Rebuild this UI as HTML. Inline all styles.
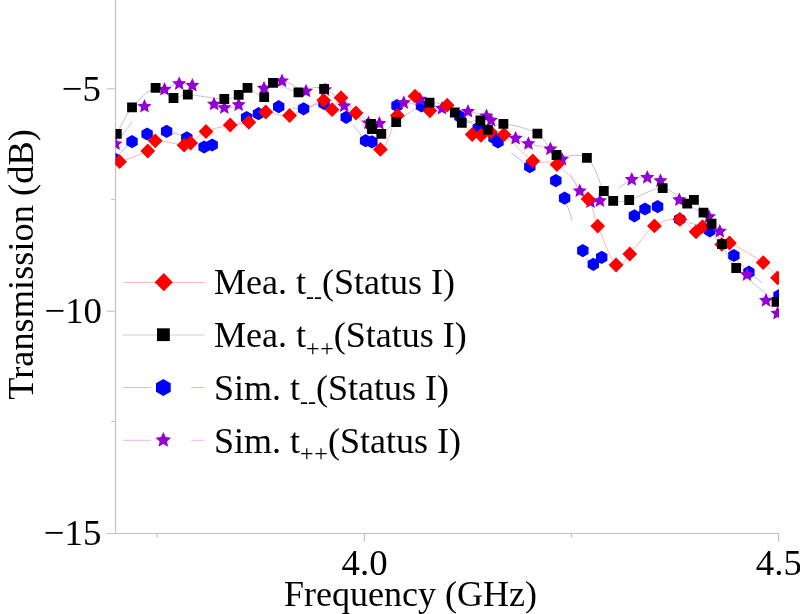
<!DOCTYPE html>
<html><head><meta charset="utf-8"><style>
html,body{margin:0;padding:0;background:#fff;width:800px;height:614px;overflow:hidden}
svg{display:block;will-change:transform;font-family:"Liberation Serif",serif}
</style></head><body>
<svg width="800" height="614" viewBox="0 0 800 614">
<defs><clipPath id="pc"><rect x="115.5" y="0" width="663.5" height="533.5"/></clipPath></defs>
<g stroke="#c4c4c4" stroke-width="1.2" fill="none">
<path d="M115.5 0V533.5H778.6V541.5"/>
<path d="M106.5 88.75H115.5M106.5 311.25H115.5M106.5 533.5H115.5M111 199.5H115.5M111 421.5H115.5"/>
<path d="M364.4 533.5V541.5M157 533.5V537.5M571.5 533.5V537.5"/>
</g>
<g clip-path="url(#pc)">
<path d="M115 159C117.8 156.1 126.7 145.8 132 141.6C137.3 137.4 141.3 135.7 147.1 134C152.9 132.3 160 130.8 166.6 131.4C173.2 132 180.6 135.2 186.8 137.8C193.1 140.4 199.9 145.8 204.1 147C208.3 148.2 205.1 149.9 212.2 145C219.3 140.1 238.9 122.8 246.6 117.6C254.3 112.4 253.2 115.5 258.5 113.7C263.9 111.9 271.2 107.5 278.7 106.7C286.2 105.9 296.1 109.3 303.6 108.8C311.2 108.3 316.9 102.1 324 103.5C331.1 104.9 339.3 111.1 346.2 117.3C353.1 123.5 361.3 136.6 365.6 140.7C369.9 144.8 366.7 147.8 371.9 141.9C377.1 136.1 388.7 111.6 397 105.6C405.3 99.6 411 104.1 421.5 105.9C432 107.8 450.5 113 460 116.7C469.5 120.4 472.6 124.5 478.3 128C484 131.6 490.7 135.7 494 138C497.3 140.3 492 137.2 498 142C504 146.8 520.2 160.3 529.8 166.7C539.4 173.1 550 175.4 555.8 180.6C561.6 185.8 560.1 186.4 564.6 198.1C569.1 209.8 578 239.6 582.8 250.6C587.6 261.6 590.1 263.2 593.3 264.3C596.4 265.4 594.9 265.5 601.7 257.4C608.6 249.3 627.2 223.9 634.4 215.8C641.6 207.7 641.1 210.5 645 209C648.9 207.5 651.8 204.9 657.6 206.6C663.4 208.3 670.9 215.3 679.6 219.3C688.3 223.3 700.8 224.8 709.8 230.8C718.8 236.8 727.4 248.6 733.9 255.5C740.4 262.4 741.4 265.5 748.9 272.2C756.4 278.9 774 291.6 779 295.5" stroke="#b4b8ff" stroke-width="1" fill="none" stroke-dasharray="28 40"/>
<path d="M115.5 144C120.3 137.8 136.3 115.6 144.5 106.5C152.7 97.4 158.7 93.3 164.5 89.5C170.3 85.7 174.6 84.5 179.2 83.8C183.8 83.1 186.5 82.1 192.3 85.5C198.1 88.9 208.7 100.5 214 104.2C219.3 107.9 220.2 107.7 224.3 107.8C228.4 107.9 232.1 108.2 238.7 104.9C245.3 101.7 256.8 92.3 264 88.3C271.2 84.3 275 80.5 282 81C289 81.5 298.8 89.7 306 91.2C313.2 92.7 318.6 87.3 325 89.8C331.4 92.3 336.9 100.5 344.2 106C351.4 111.5 362.6 120.1 368.5 123C374.4 125.9 373.5 127 379.4 123.6C385.3 120.2 397 106.8 403.8 102.8C410.6 98.8 413.6 98.4 420 99.3C426.4 100.2 434 106.4 442 108.4C450 110.4 460.6 110.2 468 111.5C475.4 112.8 482.7 114.5 486.5 116C490.3 117.5 486.1 116.6 491 120.3C495.9 124 509.4 134.5 515.6 138.4C521.8 142.3 522.6 141.9 528.4 143.7C534.2 145.5 544.8 146.5 550.4 149.1C556 151.7 557.1 152.4 562 159.4C566.9 166.4 575 183.9 579.8 191C584.5 198.1 587.1 200.4 590.5 202C593.9 203.6 593.1 204.5 600 200.8C606.9 197.1 623.9 183.5 631.8 179.6C639.7 175.7 642.5 177.4 647.3 177.6C652.1 177.8 655.2 177.1 660.5 180.8C665.8 184.5 671.2 193.9 679.3 199.9C687.4 205.9 702.2 211.6 709 216.8C715.8 222.1 713.5 221.7 719.8 231.4C726.1 241.1 739.3 263.3 747 274.8C754.7 286.3 760.9 294.2 766 300.6C771.1 307.1 775.6 311.4 777.5 313.5" stroke="#e0b0f0" stroke-width="1" fill="none" stroke-dasharray="28 40"/>
<path d="M119.6 161.7C124.3 159.9 141.9 154.5 147.8 151C153.7 147.5 149.1 141.8 155.2 140.8C161.2 139.8 178.2 144.8 184.1 145.2C190 145.6 186.9 145.3 190.6 143C194.2 140.7 199.4 134.5 206 131.5C212.6 128.5 223 126.5 230.2 125C237.3 123.5 243 124.5 248.9 122.3C254.8 120.1 259 113.1 265.8 112C272.6 110.9 280 117.5 289.6 115.5C299.2 113.5 316.6 101.3 323.7 100.3C330.8 99.3 329.2 110.1 332.1 109.7C335 109.3 337 97.2 341 97.7C345 98.2 349.4 104.4 356 113C362.6 121.6 373.5 149 380.4 149.4C387.3 149.8 391.6 124.4 397.4 115.5C403.2 106.6 409.6 97 415 96.2C420.4 95.4 424.5 109.3 429.9 110.8C435.3 112.3 440.1 101.2 447.2 105.2C454.2 109.2 466.6 129.5 472.2 134.5C477.8 139.5 477.9 135.7 481 135.3C484.1 134.9 486.7 132.1 490.5 132C494.3 131.9 496.9 129.7 504 134.5C511.1 139.3 524 155.9 532.8 160.9C541.6 165.9 547.8 158.2 557 164.6C566.2 170.9 581.2 188.8 588 199C594.8 209.2 593 215.1 597.7 226.1C602.4 237.1 610.8 260.4 616.1 265C621.5 269.6 623.4 260.5 629.8 254C636.2 247.5 646 231.7 654.4 225.9C662.8 220.1 673 218.3 679.9 219.3C686.8 220.3 692.2 230.6 696 231.8C699.8 233 698.2 224.6 702.5 226.7C706.8 228.8 717.3 241.7 721.8 244.4C726.3 247.1 722.6 240 729.5 243C736.4 246 755.2 256.8 763.2 262.6C771.2 268.4 775.1 275.3 777.5 277.8" stroke="#ffb4b4" stroke-width="1" fill="none"/>
<path d="M116.8 133.8C119.3 129.4 125.5 115.1 132 107.4C138.5 99.8 148.7 89.5 155.6 87.9C162.5 86.3 168.1 96.9 173.5 98C178.9 99.1 179.3 94.5 187.8 94.7C196.3 94.9 215.8 99 224.3 99C232.8 99 234.8 96.8 238.7 94.9C242.6 93.1 243.2 87.5 247.5 87.9C251.8 88.3 259.9 97.9 264.2 97.1C268.4 96.3 267.3 83.7 273 82.9C278.7 82.1 290 91.3 298.5 92.3C307 93.3 312 83.5 324.1 88.8C336.2 94.1 363 117.3 371 124C379 130.7 370.3 127.3 372 129C373.7 130.7 377.3 135.1 381.3 133.9C385.3 132.7 388.1 127.2 396.2 122C404.2 116.8 419.8 104.2 429.6 102.6C439.4 101 449.4 109.1 454.8 112.5C460.2 115.9 457.5 121.5 461.8 122.8C466.1 124.1 476 119.4 480.4 120.5C484.8 121.6 484.1 129 487.9 129.6C491.7 130.2 495.1 123.1 503.4 123.8C511.6 124.5 528.5 128.5 537.4 133.7C546.2 138.9 548.2 151 556.5 155C564.8 159 579 151.8 586.9 157.8C594.8 163.8 599.4 183.8 603.8 191C608.2 198.2 609 199.3 613.2 200.8C617.4 202.3 621 202.1 629.2 200C637.5 197.9 653 187.5 662.7 188.1C672.4 188.7 682 201.7 687.2 203.7C692.4 205.7 691.2 198.4 693.9 199.9C696.6 201.4 700.5 208.7 703.5 212.7C706.5 216.7 708.5 218.5 711.6 223.7C714.7 228.9 717.9 236.7 722 244.1C726.1 251.5 727.1 258.4 736.2 268C745.3 277.6 769.8 296.2 776.5 301.9" stroke="#c4c4c4" stroke-width="1" fill="none"/>
<path d="M115 152.4L120.7 155.7L120.7 162.3L115 165.6L109.3 162.3L109.3 155.7zM132 135L137.7 138.3L137.7 144.9L132 148.2L126.3 144.9L126.3 138.3zM147.1 127.4L152.8 130.7L152.8 137.3L147.1 140.6L141.4 137.3L141.4 130.7zM166.6 124.8L172.3 128.1L172.3 134.7L166.6 138L160.9 134.7L160.9 128.1zM186.8 131.2L192.5 134.5L192.5 141.1L186.8 144.4L181.1 141.1L181.1 134.5zM204.1 140.4L209.8 143.7L209.8 150.3L204.1 153.6L198.4 150.3L198.4 143.7zM212.2 138.4L217.9 141.7L217.9 148.3L212.2 151.6L206.5 148.3L206.5 141.7zM246.6 111L252.3 114.3L252.3 120.9L246.6 124.2L240.9 120.9L240.9 114.3zM258.5 107.1L264.2 110.4L264.2 117L258.5 120.3L252.8 117L252.8 110.4zM278.7 100.1L284.4 103.4L284.4 110L278.7 113.3L273 110L273 103.4zM303.6 102.2L309.3 105.5L309.3 112.1L303.6 115.4L297.9 112.1L297.9 105.5zM324 96.9L329.7 100.2L329.7 106.8L324 110.1L318.3 106.8L318.3 100.2zM346.2 110.7L351.9 114L351.9 120.6L346.2 123.9L340.5 120.6L340.5 114zM365.6 134.1L371.3 137.4L371.3 144L365.6 147.3L359.9 144L359.9 137.4zM371.9 135.3L377.6 138.6L377.6 145.2L371.9 148.5L366.2 145.2L366.2 138.6zM397 99L402.7 102.3L402.7 108.9L397 112.2L391.3 108.9L391.3 102.3zM421.5 99.3L427.2 102.6L427.2 109.2L421.5 112.5L415.8 109.2L415.8 102.6zM460 110.1L465.7 113.4L465.7 120L460 123.3L454.3 120L454.3 113.4zM478.3 121.4L484 124.7L484 131.3L478.3 134.6L472.6 131.3L472.6 124.7zM494 131.4L499.7 134.7L499.7 141.3L494 144.6L488.3 141.3L488.3 134.7zM498 135.4L503.7 138.7L503.7 145.3L498 148.6L492.3 145.3L492.3 138.7zM529.8 160.1L535.5 163.4L535.5 170L529.8 173.3L524.1 170L524.1 163.4zM555.8 174L561.5 177.3L561.5 183.9L555.8 187.2L550.1 183.9L550.1 177.3zM564.6 191.5L570.3 194.8L570.3 201.4L564.6 204.7L558.9 201.4L558.9 194.8zM582.8 244L588.5 247.3L588.5 253.9L582.8 257.2L577.1 253.9L577.1 247.3zM593.3 257.7L599 261L599 267.6L593.3 270.9L587.6 267.6L587.6 261zM601.7 250.8L607.4 254.1L607.4 260.7L601.7 264L596 260.7L596 254.1zM634.4 209.2L640.1 212.5L640.1 219.1L634.4 222.4L628.7 219.1L628.7 212.5zM645 202.4L650.7 205.7L650.7 212.3L645 215.6L639.3 212.3L639.3 205.7zM657.6 200L663.3 203.3L663.3 209.9L657.6 213.2L651.9 209.9L651.9 203.3zM679.6 212.7L685.3 216L685.3 222.6L679.6 225.9L673.9 222.6L673.9 216zM709.8 224.2L715.5 227.5L715.5 234.1L709.8 237.4L704.1 234.1L704.1 227.5zM733.9 248.9L739.6 252.2L739.6 258.8L733.9 262.1L728.2 258.8L728.2 252.2zM748.9 265.6L754.6 268.9L754.6 275.5L748.9 278.8L743.2 275.5L743.2 268.9zM779 288.9L784.7 292.2L784.7 298.8L779 302.1L773.3 298.8L773.3 292.2z" fill="#0000ff"/>
<path d="M115.5 136.5L117.6 141.2L122.6 141.7L118.8 145.1L119.9 150.1L115.5 147.5L111.1 150.1L112.2 145.1L108.4 141.7L113.4 141.2zM144.5 99L146.6 103.7L151.6 104.2L147.8 107.6L148.9 112.6L144.5 110L140.1 112.6L141.2 107.6L137.4 104.2L142.4 103.7zM164.5 82L166.6 86.7L171.6 87.2L167.8 90.6L168.9 95.6L164.5 93L160.1 95.6L161.2 90.6L157.4 87.2L162.4 86.7zM179.2 76.3L181.3 81L186.3 81.5L182.5 84.9L183.6 89.9L179.2 87.3L174.8 89.9L175.9 84.9L172.1 81.5L177.1 81zM192.3 78L194.4 82.7L199.4 83.2L195.6 86.6L196.7 91.6L192.3 89L187.9 91.6L189 86.6L185.2 83.2L190.2 82.7zM214 96.7L216.1 101.4L221.1 101.9L217.3 105.3L218.4 110.3L214 107.7L209.6 110.3L210.7 105.3L206.9 101.9L211.9 101.4zM224.3 100.3L226.4 105L231.4 105.5L227.6 108.9L228.7 113.9L224.3 111.3L219.9 113.9L221 108.9L217.2 105.5L222.2 105zM238.7 97.4L240.8 102.1L245.8 102.6L242 106L243.1 111L238.7 108.4L234.3 111L235.4 106L231.6 102.6L236.6 102.1zM264 80.8L266.1 85.5L271.1 86L267.3 89.4L268.4 94.4L264 91.8L259.6 94.4L260.7 89.4L256.9 86L261.9 85.5zM282 73.5L284.1 78.2L289.1 78.7L285.3 82.1L286.4 87.1L282 84.5L277.6 87.1L278.7 82.1L274.9 78.7L279.9 78.2zM306 83.7L308.1 88.4L313.1 88.9L309.3 92.3L310.4 97.3L306 94.7L301.6 97.3L302.7 92.3L298.9 88.9L303.9 88.4zM325 82.3L327.1 87L332.1 87.5L328.3 90.9L329.4 95.9L325 93.3L320.6 95.9L321.7 90.9L317.9 87.5L322.9 87zM344.2 98.5L346.3 103.2L351.3 103.7L347.5 107.1L348.6 112.1L344.2 109.5L339.8 112.1L340.9 107.1L337.1 103.7L342.1 103.2zM368.5 115.5L370.6 120.2L375.6 120.7L371.8 124.1L372.9 129.1L368.5 126.5L364.1 129.1L365.2 124.1L361.4 120.7L366.4 120.2zM379.4 116.1L381.5 120.8L386.5 121.3L382.7 124.7L383.8 129.7L379.4 127.1L375 129.7L376.1 124.7L372.3 121.3L377.3 120.8zM403.8 95.3L405.9 100L410.9 100.5L407.1 103.9L408.2 108.9L403.8 106.3L399.4 108.9L400.5 103.9L396.7 100.5L401.7 100zM420 91.8L422.1 96.5L427.1 97L423.3 100.4L424.4 105.4L420 102.8L415.6 105.4L416.7 100.4L412.9 97L417.9 96.5zM442 100.9L444.1 105.6L449.1 106.1L445.3 109.5L446.4 114.5L442 111.9L437.6 114.5L438.7 109.5L434.9 106.1L439.9 105.6zM468 104L470.1 108.7L475.1 109.2L471.3 112.6L472.4 117.6L468 115L463.6 117.6L464.7 112.6L460.9 109.2L465.9 108.7zM486.5 108.5L488.6 113.2L493.6 113.7L489.8 117.1L490.9 122.1L486.5 119.5L482.1 122.1L483.2 117.1L479.4 113.7L484.4 113.2zM491 112.8L493.1 117.5L498.1 118L494.3 121.4L495.4 126.4L491 123.8L486.6 126.4L487.7 121.4L483.9 118L488.9 117.5zM515.6 130.9L517.7 135.6L522.7 136.1L518.9 139.5L520 144.5L515.6 141.9L511.2 144.5L512.3 139.5L508.5 136.1L513.5 135.6zM528.4 136.2L530.5 140.9L535.5 141.4L531.7 144.8L532.8 149.8L528.4 147.2L524 149.8L525.1 144.8L521.3 141.4L526.3 140.9zM550.4 141.6L552.5 146.3L557.5 146.8L553.7 150.2L554.8 155.2L550.4 152.6L546 155.2L547.1 150.2L543.3 146.8L548.3 146.3zM562 151.9L564.1 156.6L569.1 157.1L565.3 160.5L566.4 165.5L562 162.9L557.6 165.5L558.7 160.5L554.9 157.1L559.9 156.6zM579.8 183.5L581.9 188.2L586.9 188.7L583.1 192.1L584.2 197.1L579.8 194.5L575.4 197.1L576.5 192.1L572.7 188.7L577.7 188.2zM590.5 194.5L592.6 199.2L597.6 199.7L593.8 203.1L594.9 208.1L590.5 205.5L586.1 208.1L587.2 203.1L583.4 199.7L588.4 199.2zM600 193.3L602.1 198L607.1 198.5L603.3 201.9L604.4 206.9L600 204.3L595.6 206.9L596.7 201.9L592.9 198.5L597.9 198zM631.8 172.1L633.9 176.8L638.9 177.3L635.1 180.7L636.2 185.7L631.8 183.1L627.4 185.7L628.5 180.7L624.7 177.3L629.7 176.8zM647.3 170.1L649.4 174.8L654.4 175.3L650.6 178.7L651.7 183.7L647.3 181.1L642.9 183.7L644 178.7L640.2 175.3L645.2 174.8zM660.5 173.3L662.6 178L667.6 178.5L663.8 181.9L664.9 186.9L660.5 184.3L656.1 186.9L657.2 181.9L653.4 178.5L658.4 178zM679.3 192.4L681.4 197.1L686.4 197.6L682.6 201L683.7 206L679.3 203.4L674.9 206L676 201L672.2 197.6L677.2 197.1zM709 209.3L711.1 214L716.1 214.5L712.3 217.9L713.4 222.9L709 220.3L704.6 222.9L705.7 217.9L701.9 214.5L706.9 214zM719.8 223.9L721.9 228.6L726.9 229.1L723.1 232.5L724.2 237.5L719.8 234.9L715.4 237.5L716.5 232.5L712.7 229.1L717.7 228.6zM747 267.3L749.1 272L754.1 272.5L750.3 275.9L751.4 280.9L747 278.3L742.6 280.9L743.7 275.9L739.9 272.5L744.9 272zM766 293.1L768.1 297.8L773.1 298.3L769.3 301.7L770.4 306.7L766 304.1L761.6 306.7L762.7 301.7L758.9 298.3L763.9 297.8zM777.5 306L779.6 310.7L784.6 311.2L780.8 314.6L781.9 319.6L777.5 317L773.1 319.6L774.2 314.6L770.4 311.2L775.4 310.7z" fill="#9400d3"/>
<path d="M119.6 154.3L127 161.7L119.6 169.1L112.2 161.7zM147.8 143.6L155.2 151L147.8 158.4L140.4 151zM155.2 133.4L162.6 140.8L155.2 148.2L147.8 140.8zM184.1 137.8L191.5 145.2L184.1 152.6L176.7 145.2zM190.6 135.6L198 143L190.6 150.4L183.2 143zM206 124.1L213.4 131.5L206 138.9L198.6 131.5zM230.2 117.6L237.6 125L230.2 132.4L222.8 125zM248.9 114.9L256.3 122.3L248.9 129.7L241.5 122.3zM265.8 104.6L273.2 112L265.8 119.4L258.4 112zM289.6 108.1L297 115.5L289.6 122.9L282.2 115.5zM323.7 92.9L331.1 100.3L323.7 107.7L316.3 100.3zM332.1 102.3L339.5 109.7L332.1 117.1L324.7 109.7zM341 90.3L348.4 97.7L341 105.1L333.6 97.7zM356 105.6L363.4 113L356 120.4L348.6 113zM380.4 142L387.8 149.4L380.4 156.8L373 149.4zM397.4 108.1L404.8 115.5L397.4 122.9L390 115.5zM415 88.8L422.4 96.2L415 103.6L407.6 96.2zM429.9 103.4L437.3 110.8L429.9 118.2L422.5 110.8zM447.2 97.8L454.6 105.2L447.2 112.6L439.8 105.2zM472.2 127.1L479.6 134.5L472.2 141.9L464.8 134.5zM481 127.9L488.4 135.3L481 142.7L473.6 135.3zM490.5 124.6L497.9 132L490.5 139.4L483.1 132zM504 127.1L511.4 134.5L504 141.9L496.6 134.5zM532.8 153.5L540.2 160.9L532.8 168.3L525.4 160.9zM557 157.2L564.4 164.6L557 172L549.6 164.6zM588 191.6L595.4 199L588 206.4L580.6 199zM597.7 218.7L605.1 226.1L597.7 233.5L590.3 226.1zM616.1 257.6L623.5 265L616.1 272.4L608.7 265zM629.8 246.6L637.2 254L629.8 261.4L622.4 254zM654.4 218.5L661.8 225.9L654.4 233.3L647 225.9zM679.9 211.9L687.3 219.3L679.9 226.7L672.5 219.3zM696 224.4L703.4 231.8L696 239.2L688.6 231.8zM702.5 219.3L709.9 226.7L702.5 234.1L695.1 226.7zM721.8 237L729.2 244.4L721.8 251.8L714.4 244.4zM729.5 235.6L736.9 243L729.5 250.4L722.1 243zM763.2 255.2L770.6 262.6L763.2 270L755.8 262.6zM777.5 270.4L784.9 277.8L777.5 285.2L770.1 277.8z" fill="#ff0000"/>
<path d="M111.9 128.9h9.8v9.8h-9.8zM127.1 102.5h9.8v9.8h-9.8zM150.7 83h9.8v9.8h-9.8zM168.6 93.1h9.8v9.8h-9.8zM182.9 89.8h9.8v9.8h-9.8zM219.4 94.1h9.8v9.8h-9.8zM233.8 90h9.8v9.8h-9.8zM242.6 83h9.8v9.8h-9.8zM259.3 92.2h9.8v9.8h-9.8zM268.1 78h9.8v9.8h-9.8zM293.6 87.4h9.8v9.8h-9.8zM319.2 83.9h9.8v9.8h-9.8zM366.1 119.1h9.8v9.8h-9.8zM367.1 124.1h9.8v9.8h-9.8zM376.4 129h9.8v9.8h-9.8zM391.3 117.1h9.8v9.8h-9.8zM424.7 97.7h9.8v9.8h-9.8zM449.9 107.6h9.8v9.8h-9.8zM456.9 117.9h9.8v9.8h-9.8zM475.5 115.6h9.8v9.8h-9.8zM483 124.7h9.8v9.8h-9.8zM498.5 118.9h9.8v9.8h-9.8zM532.5 128.8h9.8v9.8h-9.8zM551.6 150.1h9.8v9.8h-9.8zM582 152.9h9.8v9.8h-9.8zM598.9 186.1h9.8v9.8h-9.8zM608.3 195.9h9.8v9.8h-9.8zM624.3 195.1h9.8v9.8h-9.8zM657.8 183.2h9.8v9.8h-9.8zM682.3 198.8h9.8v9.8h-9.8zM689 195h9.8v9.8h-9.8zM698.6 207.8h9.8v9.8h-9.8zM706.7 218.8h9.8v9.8h-9.8zM717.1 239.2h9.8v9.8h-9.8zM731.3 263.1h9.8v9.8h-9.8zM771.6 297h9.8v9.8h-9.8z" fill="#000000"/>
</g>
<g font-size="36.8" fill="#000">
<text x="100.8" y="100.7" text-anchor="end">−5</text>
<text x="102" y="323" text-anchor="end">−10</text>
<text x="101.3" y="544.6" text-anchor="end">−15</text>
<text x="364.6" y="575" text-anchor="middle">4.0</text>
<text x="778.8" y="575" text-anchor="middle">4.5</text>
</g>
<g font-size="36" fill="#000">
<text x="410.5" y="606" text-anchor="middle">Frequency (GHz)</text>
<text transform="translate(32.5 264.5) rotate(-90)" font-size="36.4" text-anchor="middle">Transmission (dB)</text>
</g>
<g stroke-width="1">
<path d="M122.8 282.4H204.7" stroke="#ffb8b8"/>
<path d="M122.8 335H204.7" stroke="#d0d0d0"/>
<path d="M122.8 387.5H151M191.2 387.5H204.7" stroke="#c0c4ff"/>
<path d="M122.8 440.3H151M191.2 440.3H204.7" stroke="#e8b8f4"/>
</g>
<path d="M163.8 273.1L172.8 282.2L163.8 291.3L154.7 282.2z" fill="#ff0000"/>
<path d="M157 328.3h12.8v12.8h-12.8z" fill="#000"/>
<path d="M163.3 379.1L170.7 383.3L170.7 391.8L163.3 396L156 391.8L156 383.3z" fill="#0000ff"/>
<path d="M163.3 432.1L165.6 437L171.1 437.7L167 441.4L168.1 446.8L163.3 444.1L158.5 446.8L159.6 441.4L155.5 437.7L161 437z" fill="#9400d3"/>
<g font-size="36" fill="#000">
<text x="214" y="294.3">Mea. t<tspan font-size="24" dy="9.5">--</tspan><tspan dy="-9.5">(Status I)</tspan></text>
<text x="214" y="347.1">Mea. t<tspan font-size="24" dy="8.5" letter-spacing="0.8">++</tspan><tspan dx="-0.8" dy="-8.5">(Status I)</tspan></text>
<text x="214" y="399.9">Sim. t<tspan font-size="24" dy="9.5">--</tspan><tspan dy="-9.5">(Status I)</tspan></text>
<text x="214" y="452.7">Sim. t<tspan font-size="24" dy="8.5" letter-spacing="0.8">++</tspan><tspan dx="-0.8" dy="-8.5">(Status I)</tspan></text>
</g>
</svg>
</body></html>
